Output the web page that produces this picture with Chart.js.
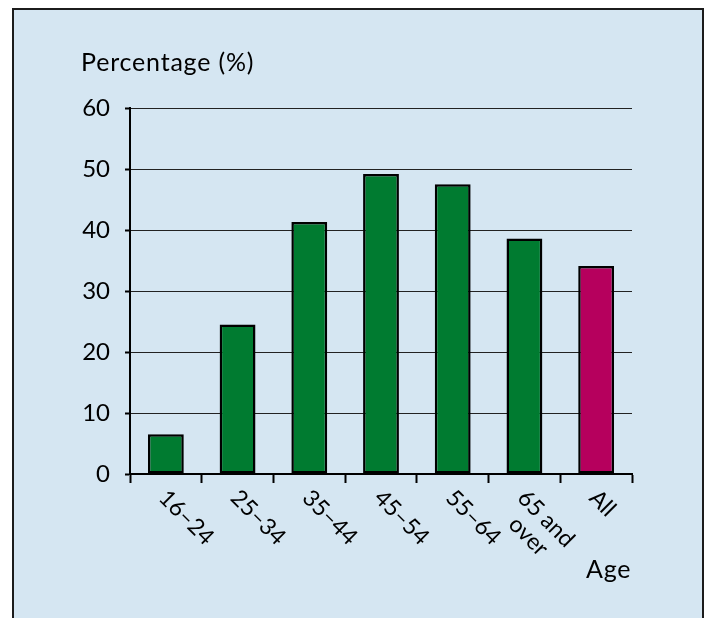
<!DOCTYPE html>
<html>
<head>
  <title>Percentage by age</title>
  <script src="https://cdn.jsdelivr.net/npm/chart.js"></script>
  <style>
    body { margin: 0; background: #ffffff; }
    #panel {
      position: absolute;
      left: 12px;
      top: 8px;
      width: 688px;
      height: 640px;
      border: 2px solid #1c1c1c;
      background: #d5e6f2;
    }
    #ageChart { position: absolute; left: 0; top: 0; }
  </style>
</head>
<body>
  <div id="panel"></div>
  <canvas id="ageChart" width="707" height="618"></canvas>

  <script>
    const ageGroups = ['16–24', '25–34', '35–44', '45–54', '55–64', ['65 and', 'over'], 'All'];
    const percentages = [6.5, 24.5, 41.3, 49.2, 47.5, 38.6, 34.1];
    const yAxisTitle = 'Percentage (%)';
    const xAxisTitle = 'Age';

    const green = '#007b30';
    const magenta = '#b6005d';
    const fontFamily = 'Lato, "Open Sans", sans-serif';

    // titles and slanted category labels are drawn by hand
    const textPlugin = {
      id: 'textPlugin',
      afterDraw(chart) {
        const ctx = chart.ctx;
        const xScale = chart.scales.x;
        ctx.save();
        ctx.fillStyle = '#000';
        ctx.font = '25px ' + fontFamily;
        ctx.letterSpacing = '0.8px';
        ctx.textAlign = 'left';
        ctx.textBaseline = 'alphabetic';
        ctx.fillText(yAxisTitle, 81, 71);
        ctx.fillText(xAxisTitle, 586, 578);
        ctx.letterSpacing = '0px';

        ctx.font = '23px ' + fontFamily;
        ctx.textBaseline = 'middle';
        ageGroups.forEach((label, i) => {
          const lines = Array.isArray(label) ? label : [label];
          const widths = lines.map(l => ctx.measureText(l).width);
          const maxW = Math.max(...widths);
          const cx = xScale.getPixelForTick(i);
          ctx.save();
          ctx.translate(cx - 3, xScale.top + 20);
          ctx.rotate(Math.PI / 4);
          lines.forEach((line, j) => {
            ctx.fillText(line, (maxW - widths[j]) / 2, j * 25);
          });
          ctx.restore();
        });
        ctx.restore();
      }
    };

    new Chart(document.getElementById('ageChart').getContext('2d'), {
      type: 'bar',
      data: {
        labels: ageGroups,
        datasets: [{
          data: percentages,
          backgroundColor: percentages.map((v, i) => i === percentages.length - 1 ? magenta : green),
          borderColor: '#000',
          borderWidth: 2.5,
          borderSkipped: false,
          barPercentage: 0.5,
          categoryPercentage: 1.0
        }]
      },
      options: {
        responsive: false,
        animation: false,
        layout: { padding: { top: 108, right: 75, left: 0, bottom: 0 } },
        plugins: {
          legend: { display: false },
          tooltip: { enabled: false }
        },
        scales: {
          x: {
            afterFit: (scale) => { scale.height = 144; },
            grid: {
              drawOnChartArea: false,
              drawTicks: true,
              tickLength: 9,
              tickWidth: 2,
              tickColor: '#000',
              offset: true
            },
            border: { color: '#000', width: 2 },
            ticks: { display: false }
          },
          y: {
            min: 0,
            max: 60,
            afterFit: (scale) => { scale.width = 130; },
            grid: {
              color: '#222',
              lineWidth: 1,
              tickLength: 5,
              tickWidth: 2,
              tickColor: '#000'
            },
            border: { color: '#000', width: 2 },
            ticks: {
              stepSize: 10,
              padding: 15,
              color: '#000',
              font: { family: fontFamily, size: 24 }
            }
          }
        }
      },
      plugins: [textPlugin]
    });
  </script>
</body>
</html>
